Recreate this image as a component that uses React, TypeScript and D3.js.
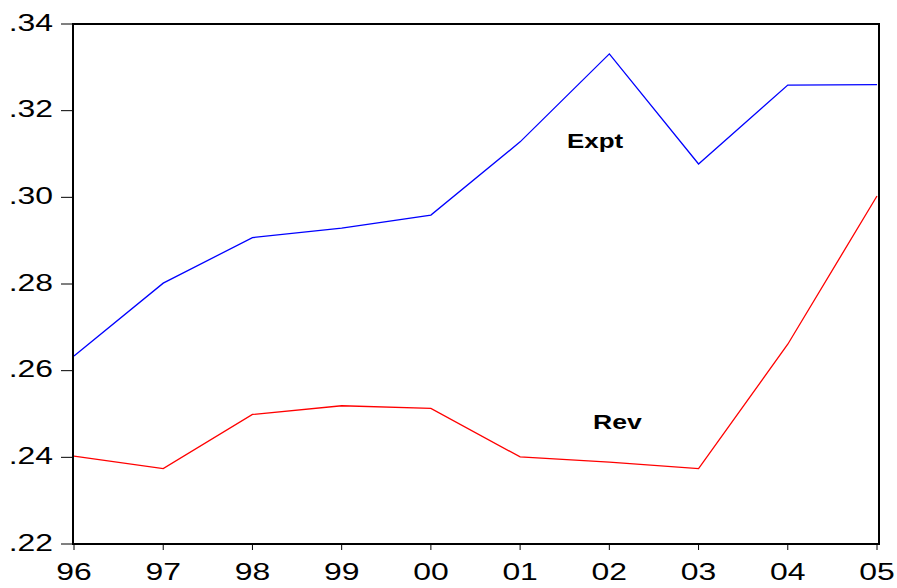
import React from "react";
import * as d3 from "d3";

const years = ["96", "97", "98", "99", "00", "01", "02", "03", "04", "05"];
const expt = [0.2634, 0.2802, 0.2907, 0.2929, 0.2959, 0.3128, 0.3331, 0.3077, 0.3259, 0.326];
const rev = [0.2403, 0.2374, 0.2499, 0.2519, 0.2513, 0.2401, 0.2389, 0.2374, 0.2661, 0.3003];
const yTicks = [0.22, 0.24, 0.26, 0.28, 0.3, 0.32, 0.34];

export default function App() {
  const W = 897, H = 588;
  const left = 73, right = 879, top = 24, bottom = 544;
  const x = d3.scalePoint<string>().domain(years).range([74, 877]);
  const y = d3.scaleLinear().domain([0.22, 0.34]).range([bottom, top]);
  const line = d3
    .line<number>()
    .x((_, i) => x(years[i]) as number)
    .y((d) => y(d));
  const fmt = (v: number) => v.toFixed(2).replace(/^0/, "");
  const font = "Liberation Sans, Arial, Helvetica, sans-serif";
  const sx = 1.33;
  return (
    <svg width={W} height={H} style={{ position: "absolute", left: 0, top: 0, background: "#fff" }}>
      <rect x={0} y={0} width={W} height={H} fill="#fff" />
      <path d={line(expt) || ""} fill="none" stroke="#0000ff" strokeWidth={1.3} />
      <path d={line(rev) || ""} fill="none" stroke="#ff0000" strokeWidth={1.3} />
      <rect x={left} y={top} width={right - left} height={bottom - top} fill="none" stroke="#000" strokeWidth={2} />
      {yTicks.map((t) => (
        <g key={t}>
          <line x1={61} x2={left} y1={y(t)} y2={y(t)} stroke="#000" strokeWidth={1} />
          <g transform={`translate(53,${y(t) + 6.5}) scale(${sx},1)`}>
            <text x={0} y={0} textAnchor="end" fontFamily={font} fontSize={24} fill="#000">
              {fmt(t)}
            </text>
          </g>
        </g>
      ))}
      {years.map((yr) => (
        <g key={yr}>
          <line x1={x(yr)} x2={x(yr)} y1={bottom} y2={bottom + 6} stroke="#000" strokeWidth={1} />
          <g transform={`translate(${x(yr)},${580}) scale(${sx},1)`}>
            <text x={0} y={0} textAnchor="middle" fontFamily={font} fontSize={24} fill="#000">
              {yr}
            </text>
          </g>
        </g>
      ))}
      <g transform={`translate(567,148) scale(${sx},1)`}>
        <text x={0} y={0} fontFamily={font} fontSize={19.5} fontWeight="bold" fill="#000">
          Expt
        </text>
      </g>
      <g transform={`translate(593,429) scale(${sx},1)`}>
        <text x={0} y={0} fontFamily={font} fontSize={20} fontWeight="bold" fill="#000">
          Rev
        </text>
      </g>
    </svg>
  );
}
